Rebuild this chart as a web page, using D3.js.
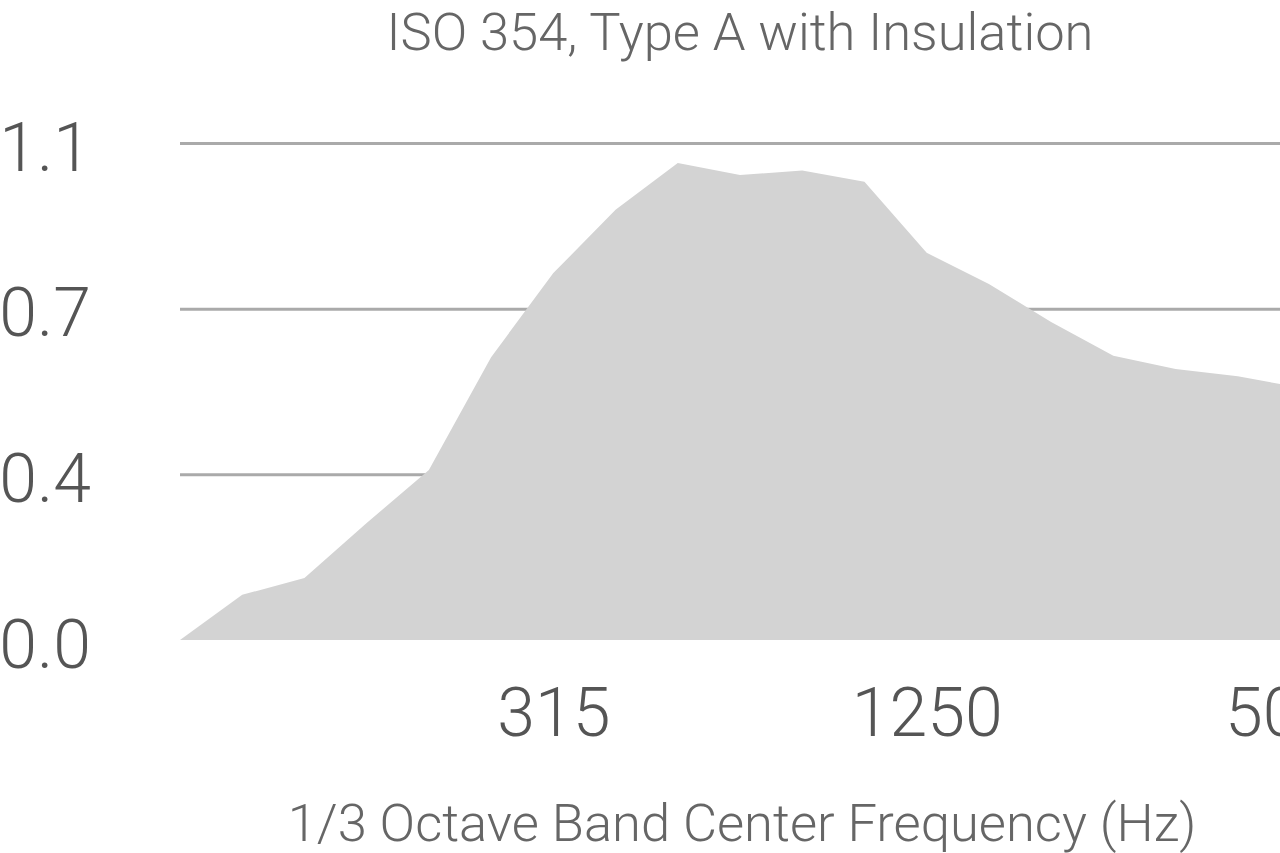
<!DOCTYPE html>
<html>
<head>
<meta charset="utf-8">
<script src="https://cdnjs.cloudflare.com/ajax/libs/d3/7.8.5/d3.min.js"></script>
<style>
	html, body { margin: 0; padding: 0; background: #fff; overflow: hidden; }
	svg text { font-family: Roboto, "Liberation Sans", Arial, sans-serif; font-weight: 300; fill: #555; }
</style>
</head>
<body>
<svg id="chart" width="1280" height="853"></svg>
<script>
// 1/3 octave band centers (Hz)
var bands = ['80', '100', '125', '160', '200', '250', '315', '400', '500', '630',
	'800', '1000', '1250', '1600', '2000', '2500', '3150', '4000', '5000'];

// sound absorption coefficient per band
var absorption = [0.00, 0.10, 0.137, 0.259, 0.376, 0.626, 0.812, 0.952, 1.056, 1.029,
	1.039, 1.014, 0.857, 0.788, 0.704, 0.629, 0.600, 0.584, 0.558];

var xTickLabels = ['315', '1250', '5000'];
var yTicks = [0, 1.1 / 3, 2.2 / 3, 1.1];

var title = 'ISO 354, Type A with Insulation';
var xTitle = '1/3 Octave Band Center Frequency (Hz)';

var svg = d3.select('#chart');

var x = d3.scalePoint()
	.domain(bands)
	.range([180, 1300]);

var y = d3.scaleLinear()
	.domain([0, 1.1])
	.range([640, 143]);

// gridlines first, the area covers them
var yAxis = d3.axisLeft(y)
	.tickValues(yTicks)
	.tickFormat(d3.format('.1f'))
	.tickSize(-1200)
	.tickPadding(0);

svg.append('g')
	.attr('class', 'y axis')
	.attr('transform', 'translate(180,0)')
	.call(yAxis)
	.call(function(g) {
		g.select('.domain').remove();
		g.selectAll('.tick line')
			.attr('stroke', '#aaa')
			.attr('stroke-width', 3)
			.attr('display', function(d) { return d === 0 ? 'none' : null; });
		g.selectAll('.tick text')
			.attr('x', -89)
			.attr('dy', '0.4em')
			.style('font-size', '68px');
	});

var area = d3.area()
	.x(function(d, i) { return x(bands[i]); })
	.y0(y(0))
	.y1(function(d) { return y(d); });

svg.append('path')
	.datum(absorption)
	.attr('fill', '#d3d3d3')
	.attr('d', area);

var xAxis = d3.axisBottom(x)
	.tickValues(xTickLabels)
	.tickSize(0)
	.tickPadding(0);

svg.append('g')
	.attr('class', 'x axis')
	.attr('transform', 'translate(0,640)')
	.call(xAxis)
	.call(function(g) {
		g.select('.domain').remove();
		g.selectAll('.tick text')
			.attr('y', 96)
			.attr('dy', 0)
			.style('font-size', '68px');
	});

svg.append('text')
	.attr('x', 740)
	.attr('y', 50)
	.attr('text-anchor', 'middle')
	.style('font-size', '52.5px')
	.style('fill', '#666')
	.text(title);

svg.append('text')
	.attr('x', 742)
	.attr('y', 841)
	.attr('text-anchor', 'middle')
	.style('font-size', '52.5px')
	.style('fill', '#666')
	.text(xTitle);
</script>
</body>
</html>
